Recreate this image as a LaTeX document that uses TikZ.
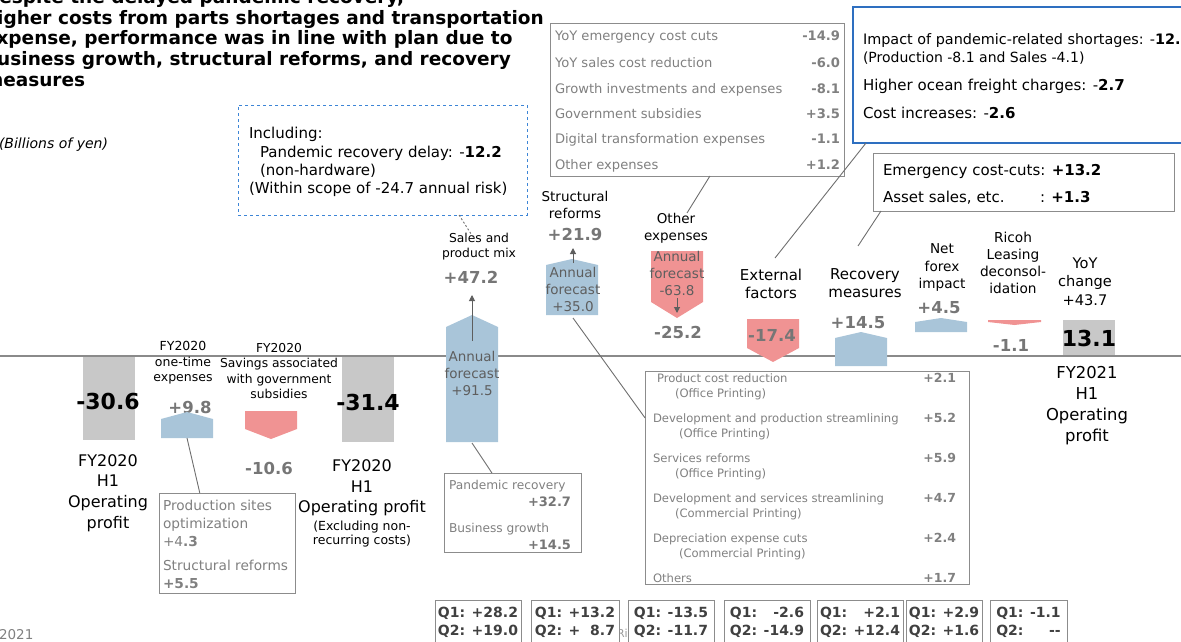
\documentclass[tikz,border=0pt]{standalone}
\usepackage{fontspec}
\setmainfont{DejaVu Sans}
\usetikzlibrary{arrows.meta,calc}
\newcommand{\myfs}[2]{\fontsize{#1}{#2}\selectfont}
\definecolor{barblue}{HTML}{A9C5D9}
\definecolor{barpink}{HTML}{F09393}
\definecolor{bargray}{HTML}{C8C8C8}
\definecolor{valgray}{HTML}{767676}
\definecolor{boxgray}{HTML}{8C8C8C}
\definecolor{txtgray}{HTML}{808080}
\definecolor{innergray}{HTML}{5E5E5E}
\definecolor{frameblue}{HTML}{2E6FC0}
\definecolor{dashblue}{HTML}{3D85D6}
\definecolor{linegray}{HTML}{6E6E6E}
\definecolor{axisgray}{HTML}{8A8A8A}
\definecolor{qtext}{HTML}{404040}
\begin{document}
\begin{tikzpicture}[x=1pt,y=-1pt,
  every node/.style={inner sep=0pt,outer sep=0pt},
  lbl/.style={align=center},
  val/.style={font=\bfseries\myfs{16.5}{20},text=valgray},
  big/.style={font=\bfseries\myfs{22}{26},text=black},
  inner/.style={align=center,font=\myfs{13.5}{17},text=innergray},
  gbox/.style={draw=boxgray,line width=0.9pt,anchor=north west},
  btxt/.style={anchor=base west,text=txtgray},
  bval/.style={anchor=base east,text=txtgray,font=\bfseries\myfs{12.5}{15}},
  conn/.style={draw=linegray,line width=0.9pt},
  qbox/.style={draw=boxgray,fill=white,line width=0.9pt,anchor=north west,minimum height=46pt,font=\bfseries\myfs{14}{18},text=qtext},
  inarrow/.style={draw=innergray,line width=1pt,-{Triangle[length=6pt,width=6pt]}}
]
\useasboundingbox (0,0) rectangle (1181,642);
\clip (0,0) rectangle (1181,642);

% title
\node[anchor=north west,align=left,font=\bfseries\myfs{18.5}{20.7}] (title) at (-16,-10.5)
 {Despite the delayed pandemic recovery,\\higher costs from parts shortages and transportation\\expense, performance was in line with plan due to\\business growth, structural reforms, and recovery\\measures};
\node[anchor=base east,font=\itshape\myfs{14}{16}] (unit) at (108,148) {(Billions of yen)};

% axis
\draw[axisgray,line width=1.6pt] (0,356) -- (1181,356);

% labels drawn under bars
\node[val] (v2) at (190,407) {+9.8};

% bars
\fill[bargray] (83,357) rectangle (135,440);
\fill[barblue] (161,438) -- (161,419) -- (187,412) -- (213,419) -- (213,438) -- cycle;
\fill[barpink] (245,411) -- (297,411) -- (297,429) -- (271,439) -- (245,429) -- cycle;
\fill[bargray] (342,357) rectangle (394,442);
\fill[barblue] (446,442) -- (446,327) -- (472,315) -- (498,327) -- (498,442) -- cycle;
\fill[barblue] (546,315) -- (546,265) -- (572,259) -- (598,265) -- (598,315) -- cycle;
\fill[barpink] (651,251) -- (703,251) -- (703,302) -- (677,318) -- (651,302) -- cycle;
\fill[barpink] (747,319) -- (799,319) -- (799,348) -- (773,362) -- (747,348) -- cycle;
\fill[barblue] (835,366) -- (835,338) -- (861,332) -- (887,338) -- (887,366) -- cycle;
\fill[barblue] (915,332) -- (915,322) -- (941,318) -- (967,322) -- (967,332) -- cycle;
\fill[barpink] (988,320) -- (1041,320) -- (1041,322) -- (1014.5,325) -- (988,322) -- cycle;
\fill[bargray] (1063,320) rectangle (1115,355);

% bar coordinates
\coordinate (b2bot) at (187,438);
\coordinate (b5bot) at (472,443);
\coordinate (b6bot) at (573,318);
\coordinate (a5s) at (472,341); \coordinate (a5e) at (472,295);
\coordinate (a6s) at (573,263); \coordinate (a6e) at (573,248);
\coordinate (a7s) at (677,298); \coordinate (a7e) at (677,313);
\draw[inarrow] (a5s) -- (a5e);
\draw[inarrow] (a6s) -- (a6e);
\draw[inarrow] (a7s) -- (a7e);

% bar texts
\node[big] (v1) at (108,401) {-30.6};
\node[lbl,font=\myfs{16}{20.7}] (l1) at (108,493) {FY2020\\H1\\Operating\\profit};
\node[lbl,font=\myfs{12.5}{15.5}] (l2) at (183,363) {FY2020\\one-time\\expenses};
\node[lbl,font=\myfs{12.3}{15.5}] (l3) at (279,371) {FY2020\\Savings associated\\with government\\subsidies};
\node[val] (v3) at (269,468) {-10.6};
\node[big] (v4) at (368,402) {-31.4};
\node[lbl,font=\myfs{16}{20.7}] (l4) at (362,488) {FY2020\\H1\\Operating profit};
\node[lbl,font=\myfs{12.5}{14.5}] (l4b) at (362,534) {(Excluding non-\\recurring costs)};

\node[lbl,font=\myfs{12.3}{15}] (l5) at (479,247) {Sales and\\product mix};
\node[val] (v5) at (471,277) {+47.2};
\node[inner] (i5) at (472,373) {Annual\\forecast\\+91.5};

\node[lbl,font=\myfs{13.5}{17}] (l6) at (575,205) {Structural\\reforms};
\node[val] (v6) at (575,234) {+21.9};
\node[inner] (i6) at (573,289.5) {Annual\\forecast\\+35.0};

\node[lbl,font=\myfs{13.5}{17}] (l7) at (676,228.5) {Other\\expenses};
\node[inner] (i7) at (677,273) {Annual\\forecast\\-63.8};
\node[val] (v7) at (678,332) {-25.2};

\node[lbl,font=\myfs{15}{18}] (l8) at (771,284) {External\\factors};
\node[val] (v8) at (772,335) {-17.4};

\node[lbl,font=\myfs{15}{18.5}] (l9) at (865,283) {Recovery\\measures};
\node[val] (v9) at (858,323) {+14.5};

\node[lbl,font=\myfs{13.6}{17.5}] (l10) at (942,267.5) {Net\\forex\\impact};
\node[val] (v10) at (939,308) {+4.5};

\node[lbl,font=\myfs{13.7}{17}] (l11) at (1013,262.5) {Ricoh\\Leasing\\deconsol-\\idation};
\node[val] (v11) at (1011,345) {-1.1};

\node[lbl,font=\myfs{14.6}{18.5}] (l12) at (1085,281.5) {YoY\\change\\+43.7};
\node[big] (v12) at (1089,338) {13.1};
\node[lbl,font=\myfs{16.4}{21}] (l12b) at (1087,405.5) {FY2021\\H1\\Operating\\profit};

% dashed including box
\node[draw=dashblue,dashed,line width=1pt,anchor=north west,minimum width=289pt,minimum height=110pt] (incl) at (238,105) {};
\node[anchor=base west,font=\myfs{15}{18}] (in1) at (249,138) {Including:};
\node[anchor=base west,font=\myfs{15}{18}] (in2) at (260,157) {Pandemic recovery delay: -\textbf{12.2}};
\node[anchor=base west,font=\myfs{15}{18}] (in3) at (260,175) {(non-hardware)};
\node[anchor=base west,font=\myfs{15}{18}] (in4) at (249,193) {(Within scope of -24.7 annual risk)};

% YoY box
\node[gbox,minimum width=294pt,minimum height=153pt] (yoybox) at (550,23) {};
\foreach \t/\v/\y in {YoY emergency cost cuts/-14.9/41, YoY sales cost reduction/-6.0/67, Growth investments and expenses/-8.1/93, Government subsidies/+3.5/118, Digital transformation expenses/-1.1/143, Other expenses/+1.2/169}{
  \node[btxt,font=\myfs{13.1}{16}] at (555,\y) {\t};
  \node[bval,font=\bfseries\myfs{13.1}{16}] at (840,\y) {\v};
}

% blue box
\node[draw=frameblue,line width=1.2pt,anchor=north west,minimum width=345pt,minimum height=136pt] (bluebox) at (853,7) {};
\node[anchor=base west,font=\myfs{14.4}{18}] (bb1) at (863,45) {Impact of pandemic-related shortages: -\textbf{12.2}};
\node[anchor=base west,font=\myfs{14}{16}] (bb2) at (863,63) {(Production -8.1 and Sales -4.1)};
\node[anchor=base west,font=\myfs{15}{18}] (bb3) at (863,90) {Higher ocean freight charges: -\textbf{2.7}};
\node[anchor=base west,font=\myfs{15}{18}] (bb4) at (863,118) {Cost increases: -\textbf{2.6}};

% emergency box
\node[gbox,minimum width=301pt,minimum height=58pt] (embox) at (873,153) {};
\node[anchor=base west,font=\myfs{15}{18}] (em1) at (883,175) {Emergency cost-cuts: \textbf{+13.2}};
\node[anchor=base west,font=\myfs{15}{18}] (em2) at (883,202) {Asset sales, etc.};
\node[anchor=base west,font=\myfs{15}{18}] (em3) at (1040,202) {: \textbf{+1.3}};

% production sites box
\node[gbox,minimum width=136pt,minimum height=100pt] (psbox) at (159,493) {};
\node[btxt,font=\myfs{13.7}{17}] at (163,510) {Production sites};
\node[btxt,font=\myfs{13.7}{17}] at (163,528) {optimization};
\node[btxt,font=\myfs{13.7}{17}] at (163,546) {+4\textbf{.3}};
\node[btxt,font=\myfs{13.7}{17}] at (163,570) {Structural reforms};
\node[btxt,font=\bfseries\myfs{13.7}{17}] at (163,588) {+5.5};

% pandemic box
\node[gbox,minimum width=137pt,minimum height=79pt] (pdbox) at (444,473) {};
\node[btxt,font=\myfs{12.2}{15}] at (449,489) {Pandemic recovery};
\node[bval,font=\bfseries\myfs{13}{15},text=valgray] at (571,506) {+32.7};
\node[btxt,font=\myfs{12.2}{15}] at (449,532) {Business growth};
\node[bval,font=\bfseries\myfs{13}{15},text=valgray] at (571,549) {+14.5};

% product cost box
\node[gbox,minimum width=324pt,minimum height=213pt] (pcbox) at (645,371) {};
\foreach \t/\s/\xa/\xb/\v/\y in {Product cost reduction/(Office Printing)/657/675/+2.1/382,
  Development and production streamlining/(Office Printing)/653/679/+5.2/422,
  Services reforms/(Office Printing)/653/675/+5.9/462,
  Development and services streamlining/(Commercial Printing)/653/675/+4.7/502,
  Depreciation expense cuts/(Commercial Printing)/653/679/+2.4/542}{
  \node[btxt,font=\myfs{11.6}{14}] at (\xa,\y) {\t};
  \node[btxt,font=\myfs{11.6}{14}] at (\xb,\y+15) {\s};
  \node[bval] at (956,\y) {\v};
}
\node[btxt,font=\myfs{11.6}{14}] at (653,582) {Others};
\node[bval] at (956,582) {+1.7};

% connectors
\coordinate (saleslbl) at (473,237);
\coordinate (otherlbl) at (687,213);
\coordinate (extlbl) at (775,258);
\coordinate (reclbl) at (858,246);
\draw[conn] (b2bot) -- ($(psbox.north west)!0.3!(psbox.north east)$);
\draw[conn] (b5bot) -- ($(pdbox.north west)!0.35!(pdbox.north east)$);
\draw[conn] (b6bot) -- ($(pcbox.north west)!0.22!(pcbox.south west)$);
\draw[conn] ($(yoybox.south west)!0.544!(yoybox.south east)$) -- (otherlbl);
\draw[conn] ($(bluebox.south west)+(13,0)$) -- (extlbl);
\draw[conn] ($(embox.south west)+(8,0)$) -- (reclbl);
\draw[conn,dash pattern=on 2pt off 2pt] ($(incl.south west)!0.765!(incl.south east)$) -- (saleslbl);

% footer
\node[anchor=base west,font=\myfs{13.5}{16},text=txtgray] (yr) at (-1,639) {2021};
\node[anchor=base west,font=\myfs{11}{13},text=txtgray!80] (ri) at (617,637) {Ri};

% quarter boxes
\node[qbox,minimum width=86pt] (q1) at (435,600) {\begin{tabular}{@{}l@{ }r@{}}Q1:&+28.2\\Q2:&+19.0\end{tabular}};
\node[qbox,minimum width=88pt] (q2) at (531,600) {\begin{tabular}{@{}l@{ }r@{}}Q1:&+13.2\\Q2:&+\phantom{1}8.7\end{tabular}};
\node[qbox,minimum width=86pt] (q3) at (628,600) {\begin{tabular}{@{}l@{ }r@{}}Q1:&-13.5\\Q2:&-11.7\end{tabular}};
\node[qbox,minimum width=86pt] (q4) at (724,600) {\begin{tabular}{@{}l@{ }r@{}}Q1:&-2.6\\Q2:&-14.9\end{tabular}};
\node[qbox,minimum width=86pt] (q5) at (817,600) {\begin{tabular}{@{}l@{ }r@{}}Q1:&+2.1\\Q2:&+12.4\end{tabular}};
\node[qbox,minimum width=76pt] (q6) at (906,600) {\begin{tabular}{@{}l@{ }r@{}}Q1:&+2.9\\Q2:&+1.6\end{tabular}};
\node[qbox,minimum width=77pt] (q7) at (990,600) {\begin{tabular}{@{}l@{ }r@{}}Q1:&-1.1\\Q2:&-{}-\end{tabular}};
\end{tikzpicture}
\end{document}
